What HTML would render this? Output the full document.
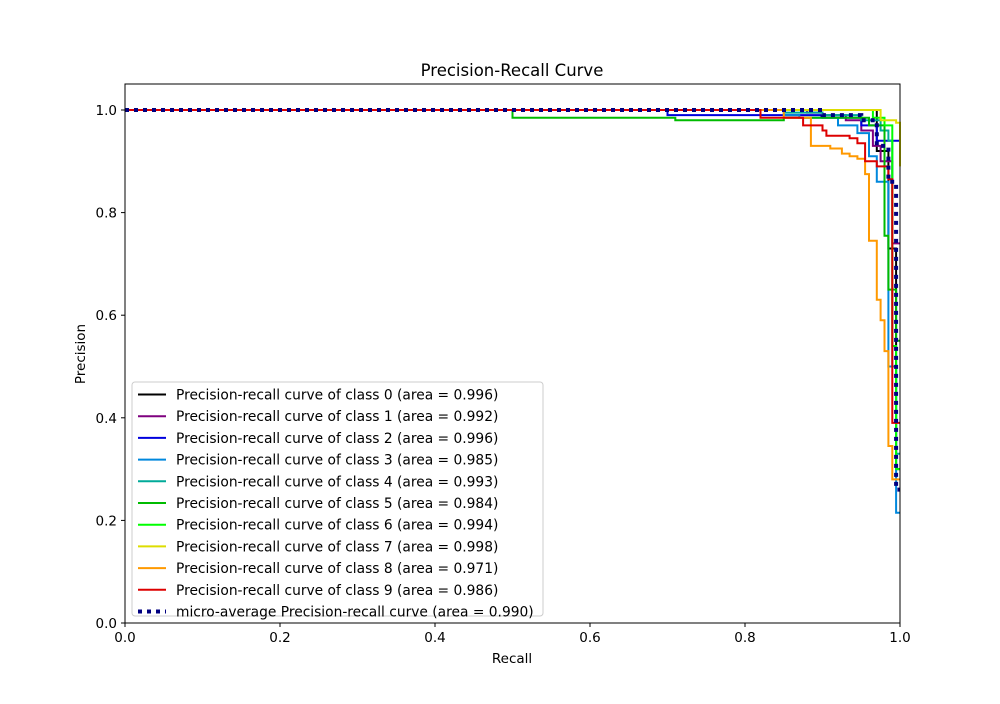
<!DOCTYPE html>
<html><head><meta charset="utf-8"><style>
body{margin:0;background:#fff;font-family:"DejaVu Sans",sans-serif}
</style></head><body>
<svg width="1000" height="700" xmlns="http://www.w3.org/2000/svg" font-family="DejaVu Sans, sans-serif">
<text x="512" y="76" font-size="16.5" text-anchor="middle">Precision-Recall Curve</text>
<g id="curves"></g>
<rect x="125" y="84" width="775" height="539" fill="none" stroke="#000" stroke-width="1"/>
<g id="ticks"></g>
<text x="512" y="663" font-size="13.5" text-anchor="middle">Recall</text>
<text x="85" y="354" font-size="13.5" text-anchor="middle" transform="rotate(-90 85 354)">Precision</text>
<g id="legend"></g>
</svg>
<script>
const xTicks=[0,0.2,0.4,0.6,0.8,1.0];
const yTicks=[0,0.2,0.4,0.6,0.8,1.0];
const seriesNames=["Precision-recall curve of class 0 (area = 0.996)","Precision-recall curve of class 1 (area = 0.992)","Precision-recall curve of class 2 (area = 0.996)","Precision-recall curve of class 3 (area = 0.985)","Precision-recall curve of class 4 (area = 0.993)","Precision-recall curve of class 5 (area = 0.984)","Precision-recall curve of class 6 (area = 0.994)","Precision-recall curve of class 7 (area = 0.998)","Precision-recall curve of class 8 (area = 0.971)","Precision-recall curve of class 9 (area = 0.986)","micro-average Precision-recall curve (area = 0.990)"];
const colors=["#000000","#7f007f","#0000dd","#0088dd","#00aa99","#00bb00","#00ff00","#dddd00","#ff9900","#dd0000","#000080"];
const recall=[
[0,0.97,0.985,0.995,1],
[0,0.88,0.9,0.93,0.95,0.965,0.975,0.99,1],
[0,0.7,0.72,0.9,0.95,0.97,0.995,1],
[0,0.85,0.87,0.92,0.945,0.96,0.97,0.985,0.995,1],
[0,0.85,0.9,0.95,0.975,0.985,0.99,0.995,1],
[0,0.5,0.71,0.85,0.96,0.98,0.985,0.995,1],
[0,0.95,0.965,0.98,0.99,0.995,1],
[0,0.95,0.975,0.995,1],
[0,0.83,0.85,0.885,0.91,0.925,0.935,0.945,0.955,0.96,0.97,0.975,0.98,0.985,0.99,1],
[0,0.8,0.82,0.875,0.9,0.905,0.935,0.945,0.955,0.97,0.985,0.99,1],
[0,0.85,0.9,0.95,0.97,0.985,0.995,1]];
const precision=[
[1,0.92,0.73,0.3,0.3],
[1,0.995,0.99,0.98,0.96,0.93,0.9,0.74,0.74],
[1,0.99,0.99,0.985,0.97,0.94,0.94,0.94],
[1,0.99,0.985,0.97,0.955,0.91,0.86,0.5,0.215,0.215],
[1,0.995,0.99,0.98,0.96,0.94,0.5,0.33,0.33],
[1,0.985,0.98,0.985,0.97,0.755,0.65,0.55,0.55],
[1,1,0.985,0.97,0.54,0.3,0.3],
[1,1,0.98,0.975,0.89],
[1,1,0.985,0.93,0.925,0.915,0.91,0.905,0.875,0.745,0.63,0.59,0.53,0.345,0.28,0.28],
[1,1,0.985,0.97,0.96,0.95,0.945,0.935,0.9,0.89,0.865,0.39,0.39],
[1,1,0.99,0.98,0.93,0.86,0.26,0.26]];
const X=r=>125+r*775, Y=p=>623-p*513;
const NS="http://www.w3.org/2000/svg";
function mk(t,a,parent){const e=document.createElementNS(NS,t);for(const k in a)e.setAttribute(k,a[k]);parent.appendChild(e);return e;}
const cg=document.getElementById('curves');
recall.forEach((rs,i)=>{
 const ps=precision[i];
 let d="M"+X(rs[0]).toFixed(1)+","+Y(ps[0]).toFixed(1);
 for(let j=1;j<rs.length;j++){d+=" H"+X(rs[j]).toFixed(1)+" V"+Y(ps[j]).toFixed(1);}
 const a={d:d,fill:"none",stroke:colors[i],"stroke-width":i==10?4:2};
 if(i==10)a["stroke-dasharray"]="4 5";
 const e=mk('path',a,cg);
 
 
});
const tg=document.getElementById('ticks');
xTicks.forEach(v=>{
 mk('line',{x1:X(v),x2:X(v),y1:623,y2:627,stroke:"#000"},tg);
 const t=mk('text',{x:X(v),y:642,"font-size":13.5,"text-anchor":"middle"},tg);t.textContent=v.toFixed(1);
 
 
});
yTicks.forEach(v=>{
 mk('line',{x1:121,x2:125,y1:Y(v),y2:Y(v),stroke:"#000"},tg);
 const t=mk('text',{x:117,y:Y(v)+5,"font-size":13.5,"text-anchor":"end"},tg);t.textContent=v.toFixed(1);
 
 
});
const lg=document.getElementById('legend');
mk('rect',{x:132,y:382,width:411,height:234,rx:3,fill:"#fff","fill-opacity":0.8,stroke:"#ccc"},lg);
seriesNames.forEach((n,i)=>{
 const y=394.5+i*21.7;
 const a={x1:138,x2:166,y1:y,y2:y,stroke:colors[i],"stroke-width":i==10?4:2};
 if(i==10)a["stroke-dasharray"]="4 5";
 mk('line',a,lg);
 const t=mk('text',{x:176,y:y+5,"font-size":13.8},lg);t.textContent=n;
 
 
});
</script>
</body></html>
